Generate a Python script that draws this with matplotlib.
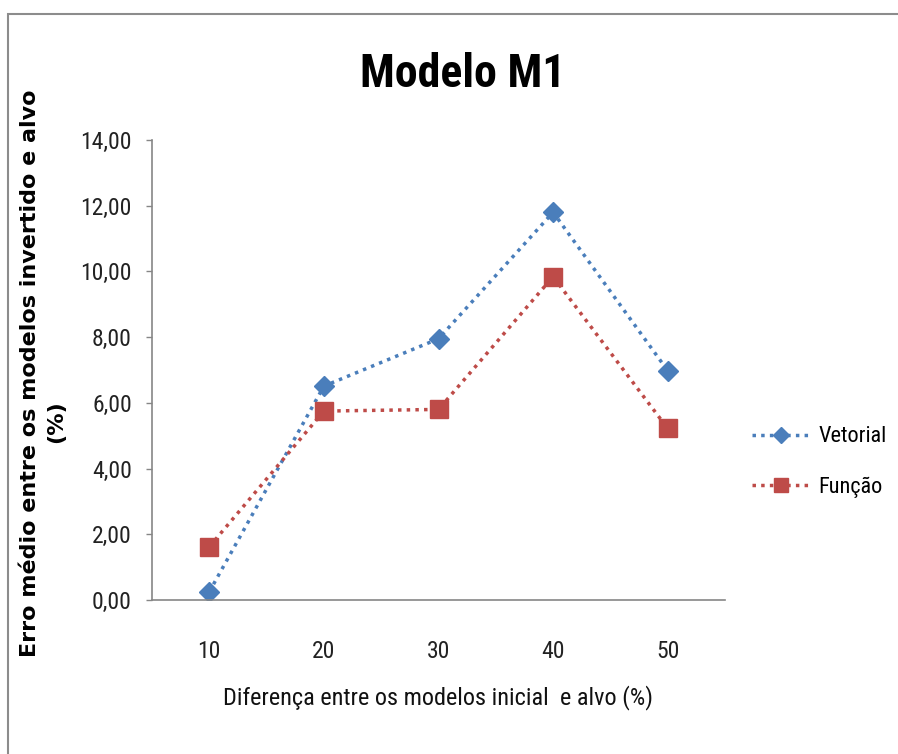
# Grafico do Modelo M1 (estilo Excel)
import numpy as np
import matplotlib.pyplot as plt
from matplotlib.patches import Rectangle

categorias = ['10', '20', '30', '40', '50']
vetorial = [0.25, 6.51, 7.95, 11.80, 6.98]
funcao = [1.62, 5.75, 5.80, 9.84, 5.22]
yticks = [0, 2, 4, 6, 8, 10, 12, 14]

fonte = ['Roboto Condensed', 'Roboto', 'DejaVu Sans']
plt.rcParams['font.family'] = fonte

fig = plt.figure(figsize=(8.98, 7.54), dpi=100)
ax = fig.add_axes([152 / 898, 1 - 600 / 754, 573 / 898, 460 / 754])

x = np.arange(1, len(categorias) + 1)
ax.plot(x, vetorial, linestyle=(0, (1, 1.5)), linewidth=2.5, color="#4A7EBB",
        marker='D', markersize=10, label='Vetorial')
ax.plot(x, funcao, linestyle=(0, (1, 1.5)), linewidth=2.5, color="#BE4B48",
        marker='s', markersize=13, label='Função')

ax.set_xlim(0.5, 5.5)
ax.set_ylim(0, 14)
ax.set_xticks(x)
ax.set_xticklabels(categorias)
ax.set_yticks(yticks)
ax.set_yticklabels(['%d,00' % v for v in yticks])
ax.tick_params(axis='x', length=0, pad=29, labelsize=17, labelcolor='#222222')
ax.tick_params(axis='y', length=4.5, width=1, color='#868686', pad=10,
               labelsize=17, labelcolor='#222222')
for s in ['top', 'right']:
    ax.spines[s].set_visible(False)
for s in ['left', 'bottom']:
    ax.spines[s].set_color('#868686')
    ax.spines[s].set_linewidth(1.2)

fig.text(463 / 898, 1 - 74 / 754, 'Modelo M1', ha='center', va='center',
         fontsize=33, fontweight='bold')
fig.text(438 / 898, 1 - 698 / 754, 'Diferença entre os modelos inicial  e alvo (%)',
         ha='center', va='center', fontsize=17.5, color='#111111')
fig.text(30 / 898, 1 - 373 / 754, 'Erro médio entre os modelos invertido e alvo',
         ha='center', va='center', rotation=90, fontsize=16, fontweight='bold',
         family='DejaVu Sans')
fig.text(56 / 898, 1 - 422 / 754, '(%)', ha='center', va='center', rotation=90,
         fontsize=16, fontweight='bold', family='DejaVu Sans')

fig.legend(loc='center left', bbox_to_anchor=(752 / 898, 1 - 462 / 754),
           frameon=False, fontsize=16, handlelength=2.6, handletextpad=0.4,
           labelspacing=1.3, markerscale=0.8, borderpad=0, borderaxespad=0)

# moldura do grafico
fig.patches.append(Rectangle((8 / 898, -0.1), 1.2, 0.1 + 1 - 14 / 754,
                             transform=fig.transFigure, fill=False,
                             edgecolor='#8c8c8c', linewidth=1.5))

plt.savefig('out.png', dpi=100)
